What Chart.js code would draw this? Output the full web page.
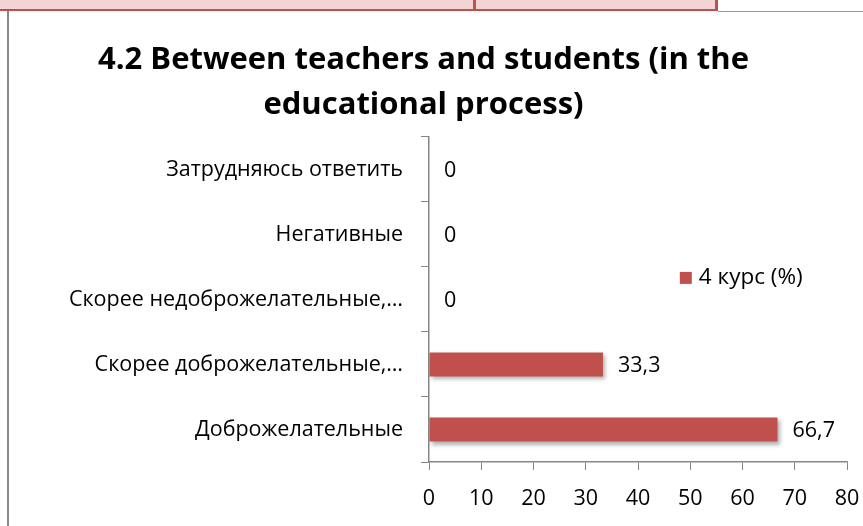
<!DOCTYPE html>
<html><head><meta charset="utf-8">
<script src="https://cdn.jsdelivr.net/npm/chart.js@4.4.1/dist/chart.umd.min.js"></script>
<style>
html,body{margin:0;padding:0;background:#fff;}
#wrap{position:relative;width:863px;height:526px;overflow:hidden;}
#c{position:absolute;left:0;top:0;}
.strip{position:absolute;left:0;top:0;height:9px;background:#f2d4d4;border-bottom:2px solid #c0504d;}
</style></head>
<body><div id="wrap">
<canvas id="c" width="863" height="526"></canvas>
<div class="strip" style="left:0;width:473px;border-right:3px solid #c0504d;"></div>
<div class="strip" style="left:476px;width:239px;border-right:3px solid #c0504d;"></div>
<div style="position:absolute;left:718px;top:11px;width:145px;height:1px;background:#9a9a9a;"></div>
<div style="position:absolute;left:7px;top:11px;width:2px;height:515px;background:#8a8a8a;"></div>
</div>
<script>
const titleLines = ['4.2 Between teachers and students (in the', 'educational process)'];
const categories = ['Затрудняюсь ответить', 'Негативные', 'Скорее недоброжелательные,…', 'Скорее доброжелательные,…', 'Доброжелательные'];
const seriesName = '4 курс (%)';
const values = [0, 0, 0, 33.3, 66.7];
const xTicks = [0, 10, 20, 30, 40, 50, 60, 70, 80];

const FONT = '"Open Sans", "Noto Sans", sans-serif';
const barColor = '#c0504d';
const axisColor = '#868686';
const FS = 21.5;

const labelPlugin = {
  id: 'vals',
  afterDatasetsDraw(chart) {
    const ctx = chart.ctx;
    const meta = chart.getDatasetMeta(0);
    ctx.save();
    ctx.font = FS + 'px ' + FONT;
    ctx.fillStyle = '#000';
    ctx.textAlign = 'left';
    ctx.textBaseline = 'middle';
    meta.data.forEach((bar, i) => {
      const t = String(values[i]).replace('.', ',');
      ctx.fillText(t, bar.x + 15, bar.y + 1);
    });
    // legend
    const lx = chart.scales.x.getPixelForValue(48);
    const ly = chart.chartArea.top + 141;
    ctx.fillStyle = barColor;
    ctx.fillRect(lx, ly - 6, 12, 12);
    ctx.fillStyle = '#000';
    ctx.font = '22.5px ' + FONT;
    ctx.fillText(seriesName, lx + 19, ly);
    ctx.restore();
  }
};
const shadowPlugin = {
  id: 'shadow',
  beforeDatasetsDraw(chart) {
    const ctx = chart.ctx;
    ctx.save();
    ctx.shadowColor = 'rgba(0,0,0,0.3)';
    ctx.shadowBlur = 4;
    ctx.shadowOffsetX = 2;
    ctx.shadowOffsetY = 3;
  },
  afterDatasetsDraw(chart) { chart.ctx.restore(); }
};

new Chart(document.getElementById('c'), {
  type: 'bar',
  data: {
    labels: categories,
    datasets: [{ label: seriesName, data: values, backgroundColor: barColor, borderWidth: 0,
      barPercentage: 0.37, categoryPercentage: 1.0 }]
  },
  options: {
    indexAxis: 'y',
    responsive: false,
    animation: false,
    layout: { padding: { left: 0, right: 16, top: 0, bottom: 0 } },
    plugins: {
      legend: { display: false },
      tooltip: { enabled: false },
      title: { display: true, text: titleLines, color: '#000',
        font: { family: FONT, size: 31, weight: 'bold', lineHeight: 1.45 },
        padding: { top: 38, bottom: 9 } }
    },
    scales: {
      x: {
        min: 0, max: 80,
        afterBuildTicks(s) { s.ticks = xTicks.map(v => ({ value: v })); },
        afterFit(s) { s.height = 64; s.paddingRight = 0; s.paddingLeft = 0; },
        grid: { drawOnChartArea: false, drawTicks: true, tickLength: 8, color: axisColor },
        border: { color: axisColor, width: 1.5 },
        ticks: { color: '#000', font: { family: FONT, size: FS }, padding: 16, maxRotation: 0 }
      },
      y: {
        afterFit(s) { s.width = 429; s.paddingTop = 0; s.paddingBottom = 0; },
        grid: { drawOnChartArea: false, drawTicks: true, tickLength: 8, color: axisColor, offset: true },
        border: { color: axisColor, width: 1.5 },
        ticks: { color: '#000', font: { family: FONT, size: FS }, padding: 18 }
      }
    }
  },
  plugins: [shadowPlugin, labelPlugin]
});
</script>
</body></html>
